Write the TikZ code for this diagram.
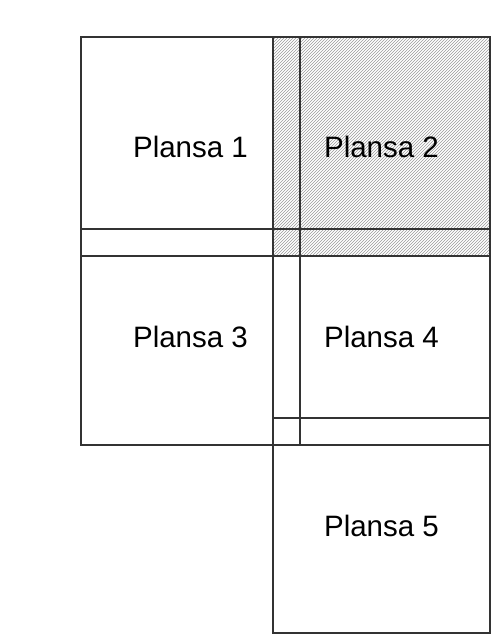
\documentclass[tikz,border=0pt]{standalone}
\usepackage{fontspec}
\setmainfont{Liberation Sans}
\usetikzlibrary{patterns}
\definecolor{edge}{HTML}{333333}
\definecolor{hatchc}{HTML}{9A9A9A}
\tikzset{
  page/.style={draw=edge, line width=1.3pt, inner sep=0pt, outer sep=0pt,
    font=\fontsize{29.5}{32}\selectfont, text=black},
  hatched/.style={pattern=north east lines, pattern color=hatchc}
}
\begin{document}
\begin{tikzpicture}[x=1pt,y=-1pt]
\useasboundingbox (0,0) rectangle (495,637);
\node[page, hatched, line width=1.6pt, minimum width=217pt, minimum height=219pt] (p2) at (381.5,146.5) {Plansa 2};
\node[page, minimum width=219pt, minimum height=219pt] (p1) at (190.5,146.5) {Plansa 1};
\node[page, minimum width=219pt, minimum height=216pt] (p3) at (190.5,337) {Plansa 3};
\node[page, minimum width=217pt, minimum height=216pt] (p4) at (381.5,337) {Plansa 4};
\node[page, minimum width=217pt, minimum height=215pt] (p5) at (381.5,525.5) {Plansa 5};
\draw[edge, line width=1.6pt] (p2.north west) rectangle (p2.south east);
\end{tikzpicture}
\end{document}
